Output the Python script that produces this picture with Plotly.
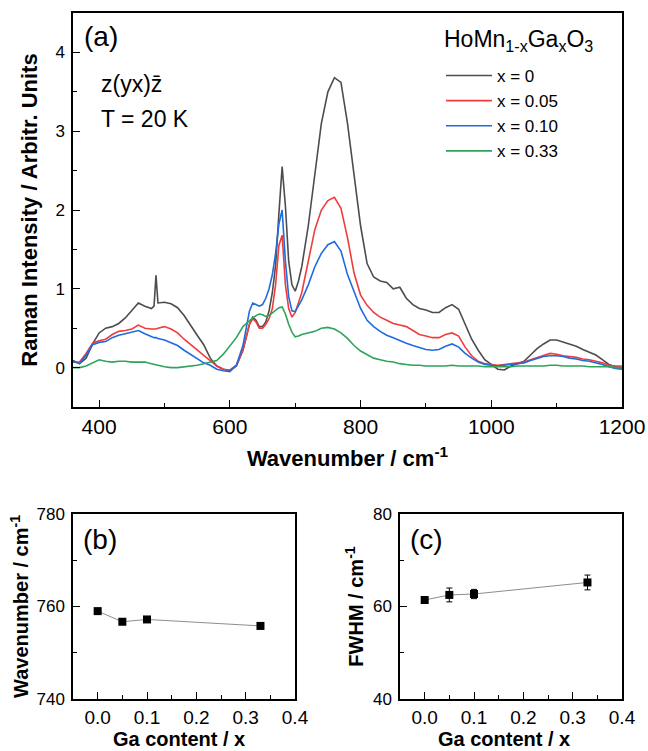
import plotly.graph_objects as go

# ---- Panel (a): Raman spectra ----
wavenumber = [360, 370, 380, 390, 400, 410, 420, 430, 440, 450, 460, 470, 480, 484, 487, 490,
              500, 510, 520, 530, 540, 550, 560, 570, 580, 590, 600, 610, 620, 630, 635, 640,
              645, 650, 655, 660, 665, 670, 675, 680, 685, 690, 695, 700, 705, 710, 720, 730,
              740, 750, 760, 770, 780, 790, 800, 810, 820, 830, 840, 850, 860, 870, 880, 890,
              900, 910, 920, 930, 940, 950, 960, 970, 980, 990, 1000, 1010, 1020, 1030, 1040,
              1050, 1060, 1070, 1080, 1090, 1100, 1110, 1120, 1130, 1140, 1150, 1160, 1170,
              1180, 1190, 1200]

int_x000 = [0.09, 0.05, 0.12, 0.30, 0.44, 0.50, 0.52, 0.56, 0.63, 0.73, 0.82, 0.78, 0.75, 0.78, 1.17, 0.82,
            0.83, 0.81, 0.76, 0.66, 0.53, 0.41, 0.29, 0.12, 0.02, -0.02, -0.04, 0.02, 0.22, 0.55, 0.64, 0.60,
            0.52, 0.52, 0.58, 0.72, 0.95, 1.30, 1.95, 2.55, 2.05, 1.35, 1.05, 0.97, 1.10, 1.28, 1.80, 2.42,
            3.10, 3.50, 3.68, 3.62, 3.10, 2.45, 1.80, 1.32, 1.15, 1.10, 1.08, 1.00, 1.02, 0.88, 0.80, 0.75,
            0.73, 0.70, 0.70, 0.76, 0.80, 0.74, 0.55, 0.36, 0.22, 0.10, 0.04, -0.02, -0.03, 0.02, 0.05,
            0.08, 0.16, 0.24, 0.30, 0.35, 0.35, 0.32, 0.30, 0.27, 0.23, 0.20, 0.16, 0.10,
            0.04, 0.01, 0.00]

int_x005 = [0.07, 0.07, 0.18, 0.31, 0.34, 0.36, 0.42, 0.46, 0.47, 0.49, 0.54, 0.50, 0.49, 0.49, 0.49, 0.50,
            0.52, 0.49, 0.44, 0.36, 0.29, 0.23, 0.15, 0.08, 0.02, -0.02, -0.03, 0.03, 0.22, 0.55, 0.62, 0.58,
            0.50, 0.50, 0.55, 0.62, 0.75, 1.05, 1.55, 1.68, 1.05, 0.75, 0.64, 0.70, 0.82, 0.95, 1.35, 1.75,
            2.00, 2.12, 2.16, 2.02, 1.65, 1.20, 0.92, 0.79, 0.70, 0.64, 0.60, 0.56, 0.54, 0.52, 0.47, 0.42,
            0.40, 0.38, 0.38, 0.42, 0.44, 0.40, 0.26, 0.15, 0.08, 0.05, 0.04, 0.03, 0.04, 0.05, 0.06,
            0.07, 0.10, 0.13, 0.16, 0.18, 0.17, 0.15, 0.14, 0.13, 0.11, 0.10, 0.08, 0.06,
            0.03, 0.02, 0.02]

int_x010 = [0.08, 0.05, 0.16, 0.29, 0.32, 0.33, 0.38, 0.41, 0.43, 0.45, 0.47, 0.43, 0.39, 0.38, 0.38, 0.37,
            0.35, 0.31, 0.28, 0.22, 0.17, 0.11, 0.06, 0.03, -0.02, -0.04, -0.05, 0.03, 0.28, 0.72, 0.82, 0.80,
            0.78, 0.80, 0.88, 1.00, 1.18, 1.45, 1.82, 2.00, 1.35, 0.90, 0.72, 0.71, 0.78, 0.86, 1.05, 1.28,
            1.45, 1.56, 1.60, 1.48, 1.18, 0.96, 0.75, 0.60, 0.52, 0.46, 0.41, 0.38, 0.34, 0.31, 0.28, 0.25,
            0.23, 0.22, 0.23, 0.27, 0.30, 0.26, 0.18, 0.12, 0.07, 0.04, 0.03, 0.02, 0.03, 0.04, 0.05,
            0.06, 0.09, 0.12, 0.14, 0.15, 0.15, 0.14, 0.12, 0.11, 0.09, 0.08, 0.06, 0.04,
            0.01, -0.01, -0.02]

int_x033 = [0.00, 0.00, 0.02, 0.06, 0.10, 0.08, 0.07, 0.08, 0.08, 0.07, 0.07, 0.07, 0.05, 0.04, 0.04, 0.03,
            0.01, 0.00, 0.00, 0.01, 0.02, 0.03, 0.05, 0.07, 0.09, 0.17, 0.27, 0.38, 0.52, 0.60, 0.63, 0.66,
            0.68, 0.67, 0.65, 0.66, 0.69, 0.72, 0.76, 0.77, 0.68, 0.55, 0.45, 0.39, 0.40, 0.42, 0.44, 0.46,
            0.50, 0.51, 0.49, 0.44, 0.37, 0.28, 0.21, 0.16, 0.12, 0.10, 0.08, 0.07, 0.05, 0.04, 0.03, 0.03,
            0.02, 0.02, 0.02, 0.02, 0.03, 0.02, 0.02, 0.02, 0.02, 0.01, 0.01, 0.01, 0.01, 0.01, 0.02,
            0.02, 0.02, 0.02, 0.02, 0.03, 0.03, 0.02, 0.02, 0.02, 0.02, 0.01, 0.01, 0.01,
            0.01, 0.00, 0.00]

series_names = ["x = 0", "x = 0.05", "x = 0.10", "x = 0.33"]
series_colors = ["#4d4d4d", "#f03c3c", "#1f6be0", "#2ea35a"]

# ---- Panels (b) and (c) ----
ga_content = [0.0, 0.05, 0.10, 0.33]
peak_position = [759.0, 756.7, 757.2, 755.8]
fwhm = [61.4, 62.5, 62.7, 65.2]
fwhm_err = [0.6, 1.5, 1.0, 1.6]

FONT = "Liberation Sans, Arial, sans-serif"
W, H = 648, 751

fig = go.Figure()
for name, col, ys in zip(series_names, series_colors, [int_x000, int_x005, int_x010, int_x033]):
    fig.add_trace(go.Scatter(x=wavenumber, y=ys, mode="lines", name=name,
                             line=dict(color=col, width=1.6), xaxis="x", yaxis="y"))

fig.add_trace(go.Scatter(x=ga_content, y=peak_position, mode="lines+markers", showlegend=False,
                         line=dict(color="#808080", width=0.9),
                         marker=dict(symbol="square", size=8, color="black"),
                         xaxis="x2", yaxis="y2"))
fig.add_trace(go.Scatter(x=ga_content, y=fwhm, mode="lines+markers", showlegend=False,
                         line=dict(color="#808080", width=0.9),
                         marker=dict(symbol="square", size=8, color="black"),
                         error_y=dict(type="data", array=fwhm_err, color="black", thickness=1, width=3),
                         xaxis="x3", yaxis="y3"))

def px(v):
    return v / W

def py(v):
    return 1 - v / H

axis_common = dict(showline=True, linecolor="black", linewidth=1.5, mirror=True,
                   ticks="inside", tickcolor="black", tickwidth=1.3, ticklen=7,
                   showgrid=False, zeroline=False, automargin=False)
xcommon = dict(axis_common, ticklabelstandoff=0)
ycommon = dict(axis_common, ticklabelstandoff=3)

fig.update_layout(
    template="none",
    width=W, height=H, margin=dict(l=0, r=0, t=0, b=0, autoexpand=False),
    paper_bgcolor="white", plot_bgcolor="white",
    font=dict(family=FONT, color="black"),
    xaxis=dict(domain=[px(73), px(622)], range=[360, 1200], dtick=200, anchor="y",
               tickfont=dict(size=21),
               minor=dict(dtick=100, ticks="inside", ticklen=4, tickcolor="black"),
               title=dict(text="<b>Wavenumber / cm<sup>-1</sup></b>", font=dict(size=22), standoff=14),
               **xcommon),
    yaxis=dict(domain=[py(407), py(13)], range=[-0.5, 4.5], dtick=1, anchor="x",
               tickfont=dict(size=17),
               minor=dict(dtick=0.5, ticks="inside", ticklen=4, tickcolor="black"),
               title=dict(text="<b>Raman Intensity / Arbitr. Units</b>", font=dict(size=22), standoff=12),
               **ycommon),
    xaxis2=dict(domain=[px(73), px(295)], range=[-0.05, 0.4], dtick=0.1, tickformat=".1f", anchor="y2",
                tickfont=dict(size=19),
                minor=dict(dtick=0.05, ticks="inside", ticklen=4, tickcolor="black"),
                **xcommon),
    yaxis2=dict(domain=[py(699), py(514)], range=[740, 780], dtick=20, anchor="x2",
                tickfont=dict(size=17),
                minor=dict(dtick=10, ticks="inside", ticklen=4, tickcolor="black"),
                title=dict(text="<b>Wavenumber / cm<sup>-1</sup></b>", font=dict(size=20), standoff=2),
                **ycommon),
    xaxis3=dict(domain=[px(400), px(622)], range=[-0.05, 0.4], dtick=0.1, tickformat=".1f", anchor="y3",
                tickfont=dict(size=19),
                minor=dict(dtick=0.05, ticks="inside", ticklen=4, tickcolor="black"),
                **xcommon),
    yaxis3=dict(domain=[py(699), py(514)], range=[40, 80], dtick=20, anchor="x3",
                tickfont=dict(size=17),
                minor=dict(dtick=10, ticks="inside", ticklen=4, tickcolor="black"),
                title=dict(text="<b>FWHM / cm<sup>-1</sup></b>", font=dict(size=20), standoff=4),
                **ycommon),
    legend=dict(x=px(441), y=py(58), xanchor="left", yanchor="top",
                bgcolor="rgba(0,0,0,0)", borderwidth=0,
                font=dict(size=17, family=FONT),
                itemwidth=46, tracegroupgap=0),
    showlegend=True,
)

annots = [
    dict(text="(a)", x=px(82), y=py(37), xanchor="left", yanchor="middle", font=dict(size=28)),
    dict(text="z(yx)z\u0304", x=px(99), y=py(84), xanchor="left", yanchor="middle", font=dict(size=23)),
    dict(text="T = 20 K", x=px(99), y=py(119), xanchor="left", yanchor="middle", font=dict(size=23)),
    dict(text="HoMn<sub>1-x</sub>Ga<sub>x</sub>O<sub>3</sub>", x=px(442), y=py(40),
         xanchor="left", yanchor="middle", font=dict(size=23)),
    dict(text="(b)", x=px(81), y=py(539), xanchor="left", yanchor="middle", font=dict(size=28)),
    dict(text="(c)", x=px(408), y=py(539), xanchor="left", yanchor="middle", font=dict(size=28)),
    dict(text="<b>Ga content / x</b>", x=px(179), y=py(739), xanchor="center", yanchor="middle",
         font=dict(size=20)),
    dict(text="<b>Ga content / x</b>", x=px(504), y=py(739), xanchor="center", yanchor="middle",
         font=dict(size=20)),
]
for a in annots:
    fig.add_annotation(xref="paper", yref="paper", showarrow=False, **a)

fig.write_html("out.html", config={"displayModeBar": False},
               post_script="document.body.style.margin='0';document.body.style.overflow='hidden';")
